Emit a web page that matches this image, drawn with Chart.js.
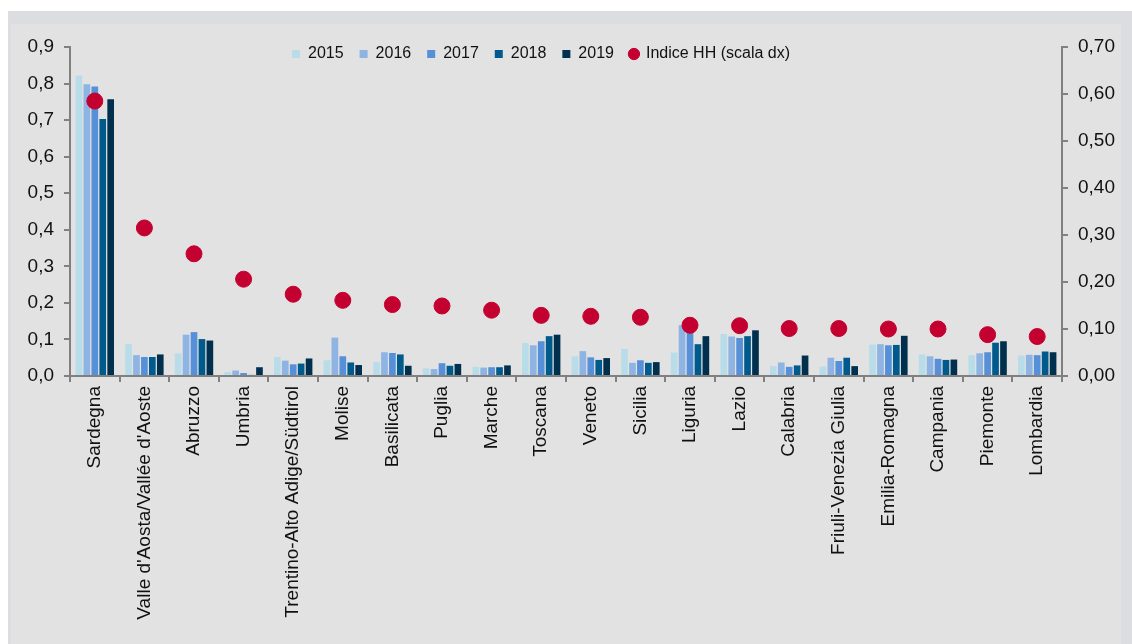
<!DOCTYPE html>
<html lang="it">
<head>
<meta charset="utf-8">
<title>Indice HH per regione</title>
<script src="https://cdn.jsdelivr.net/npm/chart.js@4.4.1/dist/chart.umd.min.js"></script>
<style>
    html, body { margin: 0; padding: 0; background: #ffffff; }
    body { width: 1132px; height: 644px; position: relative; overflow: hidden; }
    .frame { position: absolute; left: 8px; top: 11px; width: 1124px; height: 633px; background: #dcdde0; }
    .panel { position: absolute; left: 11px; top: 24px; width: 1110px; height: 620px; background: #e2e2e2; }
    #wrap { position: absolute; left: 0; top: 0; width: 1132px; height: 644px; }
</style>
</head>
<body>
<div class="frame"></div>
<div class="panel"></div>
<div id="wrap"><canvas id="hhChart"></canvas></div>
<script>
    'use strict';

    // Regioni ordinate per indice HH decrescente
    const regions = [
        'Sardegna', "Valle d'Aosta/Vallée d'Aoste", 'Abruzzo', 'Umbria',
        'Trentino-Alto Adige/Südtirol', 'Molise', 'Basilicata', 'Puglia',
        'Marche', 'Toscana', 'Veneto', 'Sicilia', 'Liguria', 'Lazio',
        'Calabria', 'Friuli-Venezia Giulia', 'Emilia-Romagna', 'Campania',
        'Piemonte', 'Lombardia'
    ];

    const years = ['2015', '2016', '2017', '2018', '2019'];

    const values2015 = [0.822, 0.087, 0.062, 0.011, 0.052, 0.043, 0.038, 0.021, 0.025, 0.090, 0.054, 0.074, 0.064, 0.115, 0.027, 0.026, 0.086, 0.059, 0.057, 0.056];
    const values2016 = [0.798, 0.057, 0.113, 0.015, 0.042, 0.105, 0.065, 0.019, 0.023, 0.084, 0.068, 0.036, 0.139, 0.108, 0.037, 0.050, 0.087, 0.054, 0.062, 0.058];
    const values2017 = [0.792, 0.052, 0.120, 0.008, 0.032, 0.054, 0.063, 0.035, 0.024, 0.095, 0.051, 0.043, 0.130, 0.104, 0.025, 0.041, 0.084, 0.047, 0.065, 0.057];
    const values2018 = [0.703, 0.052, 0.101, 0.003, 0.034, 0.037, 0.059, 0.028, 0.024, 0.109, 0.044, 0.036, 0.087, 0.109, 0.029, 0.050, 0.085, 0.044, 0.091, 0.067];
    const values2019 = [0.757, 0.059, 0.097, 0.024, 0.048, 0.030, 0.028, 0.033, 0.029, 0.113, 0.049, 0.038, 0.109, 0.125, 0.056, 0.027, 0.110, 0.045, 0.095, 0.065];

    // Indice HH, asse di destra
    const indiceHH = [0.585, 0.315, 0.260, 0.206, 0.174, 0.161, 0.152, 0.149, 0.140, 0.129, 0.127, 0.125, 0.108, 0.107, 0.101, 0.101, 0.100, 0.100, 0.088, 0.084];

    const yearColors = ['#b8dde9', '#8db4e3', '#5590d8', '#005b8c', '#00304d'];
    const hhColor = '#c3002f';
    const axisColor = '#808080';
    const textColor = '#111111';
    const fontFamily = '"Liberation Sans", Arial, sans-serif';
    const plotTop = 47;

    const barSeries = [values2015, values2016, values2017, values2018, values2019];

    const datasets = barSeries.map((data, i) => ({
        type: 'bar',
        label: years[i],
        data: data,
        backgroundColor: yearColors[i],
        borderWidth: 0,
        categoryPercentage: 0.8,
        barPercentage: 0.84,
        yAxisID: 'y',
        order: 1,
        pointStyle: 'rect'
    }));

    datasets.push({
        type: 'line',
        label: 'Indice HH (scala dx)',
        data: indiceHH,
        showLine: false,
        pointRadius: 8,
        pointHoverRadius: 8,
        pointBackgroundColor: hhColor,
        pointBorderColor: hhColor,
        backgroundColor: hhColor,
        borderColor: hhColor,
        pointStyle: 'circle',
        yAxisID: 'y1',
        order: 0
    });

    const comma = (v, digits) => v.toFixed(digits).replace('.', ',');

    // Fix the plot box so both axes sit where they should
    const fixedWidth = (w) => (scale) => { scale.width = w; };

    // Legend sits inside the plot area, slightly left of centre
    const legendShift = {
        id: 'legendShift',
        beforeDraw(chart) {
            const legend = chart.legend;
            const area = chart.chartArea;
            if (!legend || !area) return;
            legend.left = area.left - 25;
            legend.right = area.right - 25;
            legend.top = area.top - 17;
            legend.bottom = legend.top + legend.height;
        }
    };

    const tickFont = { family: fontFamily, size: 19 };
    const legendFont = { family: fontFamily, size: 16 };

    const yAxisGrid = {
        drawOnChartArea: false,
        drawTicks: true,
        tickLength: 6,
        color: axisColor,
        lineWidth: 2
    };

    const chart = new Chart(document.getElementById('hhChart'), {
        data: { labels: regions, datasets: datasets },
        plugins: [legendShift],
        options: {
            responsive: true,
            maintainAspectRatio: false,
            animation: false,
            layout: { padding: { top: 0, left: 0, right: 0, bottom: 0 } },
            plugins: {
                tooltip: { enabled: false },
                legend: {
                    position: 'top',
                    align: 'center',
                    labels: {
                        usePointStyle: true,
                        boxWidth: 8,
                        boxHeight: 8,
                        padding: 16,
                        color: textColor,
                        font: legendFont,
                        sort: (a, b) => a.datasetIndex - b.datasetIndex
                    }
                }
            },
            scales: {
                x: {
                    type: 'category',
                    offset: true,
                    afterFit: (scale) => { scale.height = 268; },
                    border: { display: true, color: axisColor, width: 2 },
                    grid: {
                        display: true,
                        offset: true,
                        drawOnChartArea: false,
                        drawTicks: true,
                        tickLength: 6,
                        color: axisColor,
                        lineWidth: 2
                    },
                    ticks: {
                        autoSkip: false,
                        minRotation: 90,
                        maxRotation: 90,
                        padding: 4,
                        color: textColor,
                        font: tickFont
                    }
                },
                y: {
                    position: 'left',
                    min: 0,
                    max: 0.9,
                    afterFit: fixedWidth(70),
                    border: { display: true, color: axisColor, width: 2 },
                    grid: yAxisGrid,
                    ticks: {
                        stepSize: 0.1,
                        padding: 10,
                        color: textColor,
                        font: tickFont,
                        callback: (v) => comma(v, 1)
                    }
                },
                y1: {
                    position: 'right',
                    min: 0,
                    max: 0.7,
                    afterFit: fixedWidth(70),
                    border: { display: true, color: axisColor, width: 2 },
                    grid: yAxisGrid,
                    ticks: {
                        stepSize: 0.1,
                        padding: 10,
                        color: textColor,
                        font: tickFont,
                        callback: (v) => comma(v, 2)
                    }
                }
            }
        }
    });

    // The legend takes room at the top; give back the rest so the plot starts at plotTop
    chart.options.layout.padding.top = Math.max(0, plotTop - chart.legend.height);
    chart.update();
</script>
</body>
</html>
